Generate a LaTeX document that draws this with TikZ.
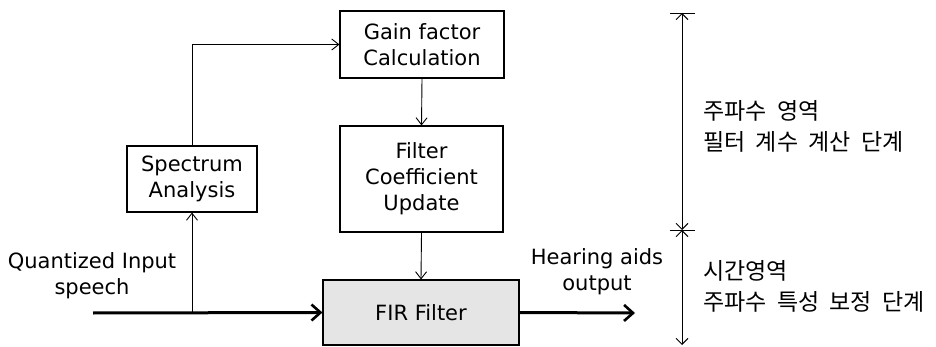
\documentclass[tikz,border=0pt]{standalone}
\usepackage{fontspec}
\setmainfont{DejaVu Sans}
\newfontfamily\krfont{Noto Sans CJK KR}
\usetikzlibrary{arrows.meta}
\newcommand\ksp{\hspace{0.45em}}
\tikzset{
  blockbox/.style={draw, line width=1.1pt, minimum width=#1, inner sep=0pt, align=center, font=\fontsize{21}{26}\selectfont},
  lbl/.style={align=center, font=\fontsize{21}{26}\selectfont, inner sep=0pt},
  klbl/.style={align=left, anchor=west, font=\krfont\fontsize{23}{31}\selectfont, inner sep=0pt},
  thin/.style={line width=0.9pt, -{Straight Barb[length=7pt,width=11pt]}},
  thick/.style={line width=3pt, -{Straight Barb[length=9pt,width=16pt,line width=2.6pt]}},
  dim/.style={line width=0.9pt},
  tip/.style={{Straight Barb[length=6pt,width=12pt]}-{Straight Barb[length=6pt,width=12pt]}}
}
\begin{document}
\begin{tikzpicture}[x=1pt,y=-1pt]
\useasboundingbox (0,0) rectangle (936,347);
% blocks
\node[blockbox=164pt, minimum height=67pt] (gain) at (422,44.5) {Gain factor\\Calculation};
\node[blockbox=163pt, minimum height=106pt] (fcu) at (421.5,179) {Filter\\Coefficient\\Update};
\node[blockbox=130pt, minimum height=66pt] (spec) at (192,179) {Spectrum\\Analysis};
\node[blockbox=196pt, minimum height=65pt, fill=gray!20] (fir) at (421,312.5) {FIR Filter};
% labels
\node[lbl] (qin) at (92,276) {Quantized Input\\speech};
\node[lbl] (hout) at (597,272) {Hearing aids\\output};
% coordinates
\coordinate (in) at (93,313);
\coordinate (br) at (192,313);
\coordinate (out) at (635,313);
% connectors
\draw[thick] (in) -- (fir.west);
\draw[thick] (fir.east) -- (out);
\draw[thin] (br) -- (spec.south);
\draw[thin] (spec.north) |- (gain.west);
\draw[thin] (gain.south) -- (fcu.north);
\draw[thin] (fcu.south) -- (fir.north);
% right dimension
\coordinate (dt) at (682,13);
\coordinate (dm) at (682,230);
\coordinate (db) at (682,345);
\draw[dim, tip] (dt) -- (dm);
\draw[dim, tip] (dm) -- (db);
\draw[dim] ([xshift=-12pt]dt) -- ([xshift=13pt]dt);
\draw[dim] ([xshift=-12pt]dm) -- ([xshift=13pt]dm);
\node[klbl] (k1) at (703,126) {주파수\ksp 영역\\필터\ksp 계수\ksp 계산\ksp 단계};
\node[klbl] (k2) at (703,286) {시간영역\\주파수\ksp 특성\ksp 보정\ksp 단계};
\end{tikzpicture}
\end{document}
